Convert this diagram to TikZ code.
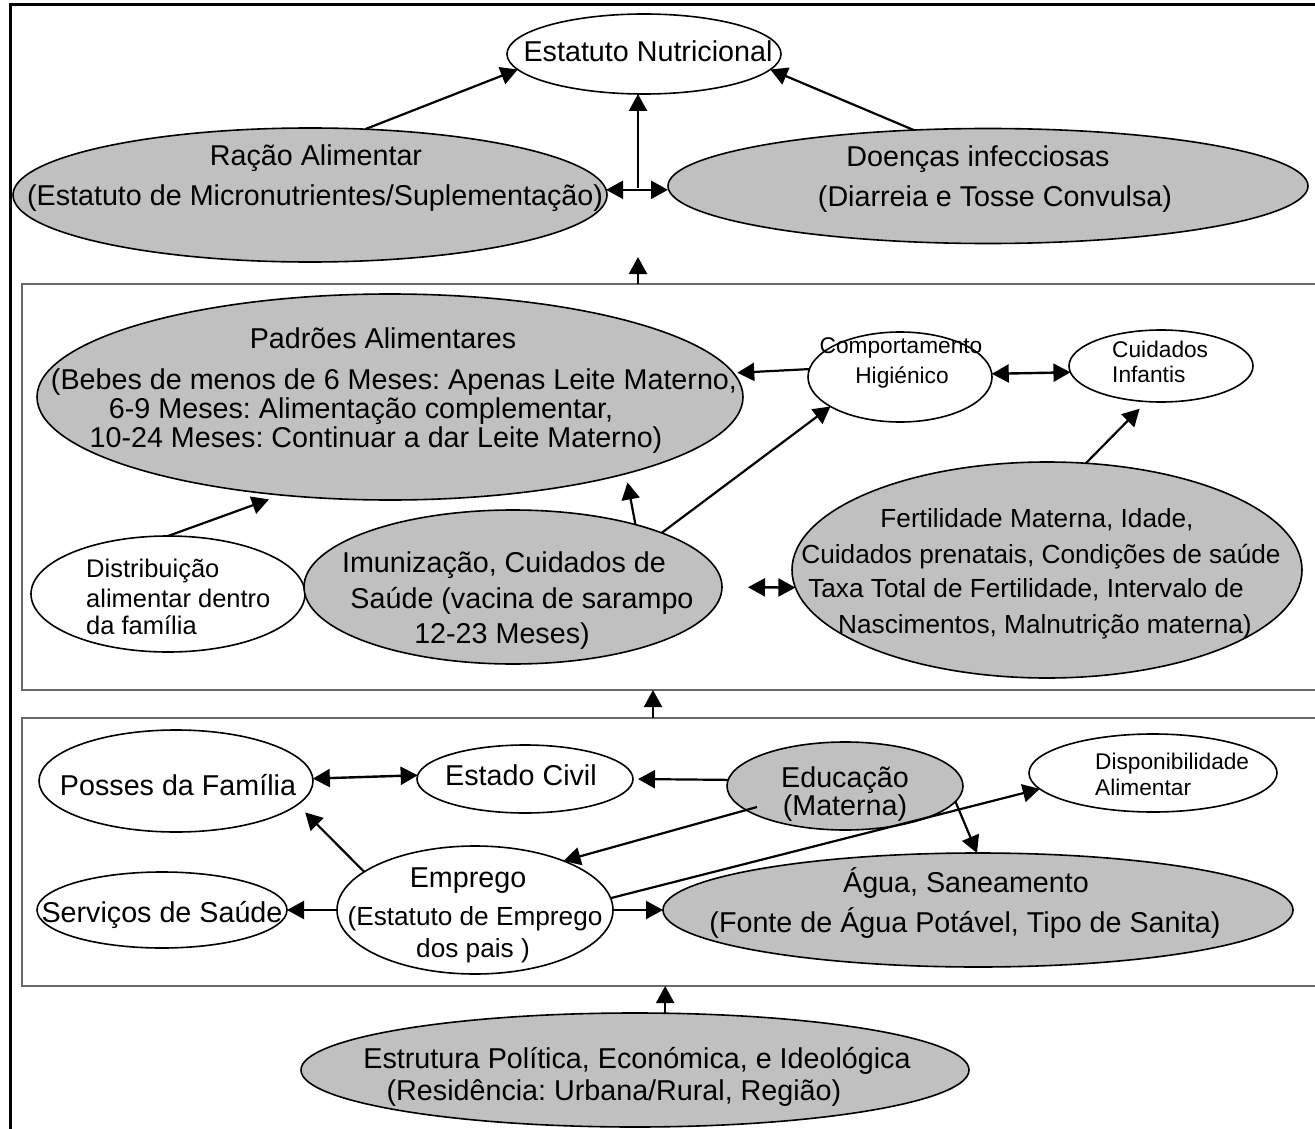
\documentclass[tikz,border=0pt]{standalone}
\usepackage{fontspec}
\setmainfont{Liberation Sans}
\usetikzlibrary{shapes.geometric,arrows.meta,calc}
\definecolor{ellgray}{RGB}{192,192,192}
\definecolor{boxgray}{RGB}{105,105,105}
\frenchspacing
\begin{document}
\begin{tikzpicture}[x=1pt,y=-1pt,
  ell/.style={ellipse, draw=black, line width=1.6pt, inner sep=0pt, outer sep=0pt},
  gell/.style={ell, fill=ellgray},
  well/.style={ell, fill=white},
  boxst/.style={rectangle, draw=boxgray, line width=1.6pt, inner sep=0pt, outer sep=0pt, anchor=north west},
  txt/.style={anchor=base, inner sep=0pt, font=\fontsize{28.7pt}{30pt}\selectfont},
  txtm/.style={anchor=base, inner sep=0pt, font=\fontsize{26.2pt}{28pt}\selectfont},
  txtd/.style={anchor=base west, inner sep=0pt, font=\fontsize{25.5pt}{28pt}\selectfont},
  txts/.style={anchor=base, inner sep=0pt, font=\fontsize{22.7pt}{25pt}\selectfont},
  txtsl/.style={txts, anchor=base west},
  arr/.style={line width=2.2pt, -{Triangle[length=17pt,width=18pt]}},
  dbl/.style={line width=2.4pt, {Triangle[length=17pt,width=18pt]}-{Triangle[length=17pt,width=18pt]}}
]
\useasboundingbox (0,0) rectangle (1315,1129);
\clip (0,0) rectangle (1315,1129);
\fill[white] (0,0) rectangle (1315,1129);

% outer frame (cut off at right and bottom)
\draw[line width=3pt] (1340,5) -- (10,5) -- (10,1150);

% section boxes
\node[boxst, minimum width=1310pt, minimum height=406pt] (boxA) at (22,284) {};
\node[boxst, minimum width=1310pt, minimum height=268pt] (boxB) at (22,718) {};

% ellipses
\node[well, minimum width=274pt, minimum height=80pt]  (estatuto) at (644,54) {};
\node[gell, minimum width=594pt, minimum height=134pt] (racao) at (310,195) {};
\node[gell, minimum width=640pt, minimum height=115pt] (doencas) at (988,186) {};
\node[gell, minimum width=706pt, minimum height=206pt] (padroes) at (390,397) {};
\node[well, minimum width=184pt, minimum height=90pt]  (comport) at (900,377) {};
\node[well, minimum width=184pt, minimum height=72pt]  (cuid) at (1161,366) {};
\node[well, minimum width=274pt, minimum height=116pt] (distrib) at (168,594) {};
\node[gell, minimum width=418pt, minimum height=154pt] (imun) at (513,587) {};
\node[gell, minimum width=510pt, minimum height=216pt] (fert) at (1047,570) {};
\node[well, minimum width=274pt, minimum height=102pt] (posses) at (176,781) {};
\node[well, minimum width=216pt, minimum height=68pt]  (estado) at (525,779) {};
\node[gell, minimum width=236pt, minimum height=88pt]  (educ) at (845,786) {};
\node[well, minimum width=248pt, minimum height=78pt]  (dispon) at (1153,773) {};
\node[well, minimum width=276pt, minimum height=128pt] (emprego) at (475,910) {};
\node[well, minimum width=250pt, minimum height=76pt]  (servicos) at (162,910) {};
\node[gell, minimum width=630pt, minimum height=114pt] (agua) at (978,910) {};
\node[gell, minimum width=668pt, minimum height=114pt] (estrutura) at (635,1070) {};

% texts
\node[txt] (t01) at (648,62) {Estatuto Nutricional};
\node[txt] (t02) at (316,165) {Ração Alimentar};
\node[txt] (t03) at (315,205) {(Estatuto de Micronutrientes/Suplementação)};
\node[txt] (t04) at (978,167) {Doenças infecciosas};
\node[txt] (t05) at (995,207) {(Diarreia e Tosse Convulsa)};
\node[txt] (t06) at (383,348) {Padrões Alimentares};
\node[txt] (t07) at (394,389) {(Bebes de menos de 6 Meses: Apenas Leite Materno,};
\node[txt] (t08) at (361,418) {6-9 Meses: Alimentação complementar,};
\node[txt] (t09) at (376,447) {10-24 Meses: Continuar a dar Leite Materno)};
\node[txts] (t10) at (901,353) {Comportamento};
\node[txts] (t11) at (902,383) {Higiénico};
\node[txtsl] (t12) at (1112,357) {Cuidados};
\node[txtsl] (t13) at (1112,382) {Infantis};
\node[txtd] (t14) at (86,577) {Distribuição};
\node[txtd] (t15) at (86,607) {alimentar dentro};
\node[txtd] (t16) at (86,634) {da família};
\node[txt] (t17) at (504,572) {Imunização, Cuidados de};
\node[txt] (t18) at (522,608) {Saúde (vacina de sarampo};
\node[txt] (t19) at (502,643) {12-23 Meses)};
\node[txtm] (t20) at (1037,527) {Fertilidade Materna, Idade,};
\node[txtm] (t21) at (1041,563) {Cuidados prenatais, Condições de saúde};
\node[txtm] (t22) at (1026,597) {Taxa Total de Fertilidade, Intervalo de};
\node[txtm] (t23) at (1045,633) {Nascimentos, Malnutrição materna)};
\node[txt] (t24) at (178,795) {Posses da Família};
\node[txt] (t25) at (521,785) {Estado Civil};
\node[txt] (t26) at (845,787) {Educação};
\node[txt] (t27) at (845,815) {(Materna)};
\node[txtsl] (t28) at (1095,769) {Disponibilidade};
\node[txtsl] (t29) at (1095,795) {Alimentar};
\node[txt] (t30) at (468,887) {Emprego};
\node[txtm] (t31) at (475,925) {(Estatuto de Emprego};
\node[txtm] (t32) at (473,957) {dos pais )};
\node[txt] (t33) at (162,922) {Serviços de Saúde};
\node[txt] (t34) at (966,892) {Água, Saneamento};
\node[txt] (t35) at (965,932) {(Fonte de Água Potável, Tipo de Sanita)};
\node[txt] (t36) at (637,1068) {Estrutura Política, Económica, e Ideológica};
\node[txt] (t37) at (614,1100) {(Residência: Urbana/Rural, Região)};

% helper coordinates
\coordinate (mid) at (638,188);
\coordinate (a1t) at (638,257);
\coordinate (b1) at (653,718);
\coordinate (e1) at (757,807);

% top connectors
\draw[arr] (racao.50) -- (estatuto.187);
\draw[arr] (doencas.143) -- (estatuto.-7);
\draw[dbl] (racao.1.4) -- (racao.1.4 -| doencas.west);
\draw[arr] (mid) -- (mid |- estatuto.south);
\draw[arr] (mid |- boxA.north) -- (a1t);

% middle connectors
\draw[arr, shorten >=13pt] (distrib.north) -- (padroes.222);
\draw[arr, shorten >=9pt] (imun.27) -- (padroes.-18.5);
\draw[arr] (imun.20) -- (comport.203);
\draw[arr, shorten >=4pt] (comport.175.6) -- (padroes.4.5);
\draw[dbl] (comport.2.5) -- (cuid.184.4);
\draw[arr, shorten >=10pt] (fert.70.9) -- (cuid.248.5);
\draw[dbl, shorten <=26pt] (imun.-0.8) -- (fert.184.6);
\draw[arr] (b1) -- (b1 |- boxA.south);

% bottom connectors
\draw[dbl] (posses.1.7) -- (estado.178.9);
\draw[arr, shorten >=5pt] (educ.177.1) -- (estado.-0.5);
\draw[arr, shorten >=11pt] (emprego.161.1) -- (posses.-11.9);
\draw[arr] (e1) -- (emprego.29.7);
\draw[arr] (emprego.west) -- (servicos.east);
\draw[arr] (emprego.east) -- (agua.west);
\draw[arr] (emprego.5.5) -- (dispon.188.9);
\draw[arr] (educ.-8.8) -- (agua.91);
\draw[arr] (estrutura.62) -- (estrutura.62 |- boxB.south);
\end{tikzpicture}
\end{document}
